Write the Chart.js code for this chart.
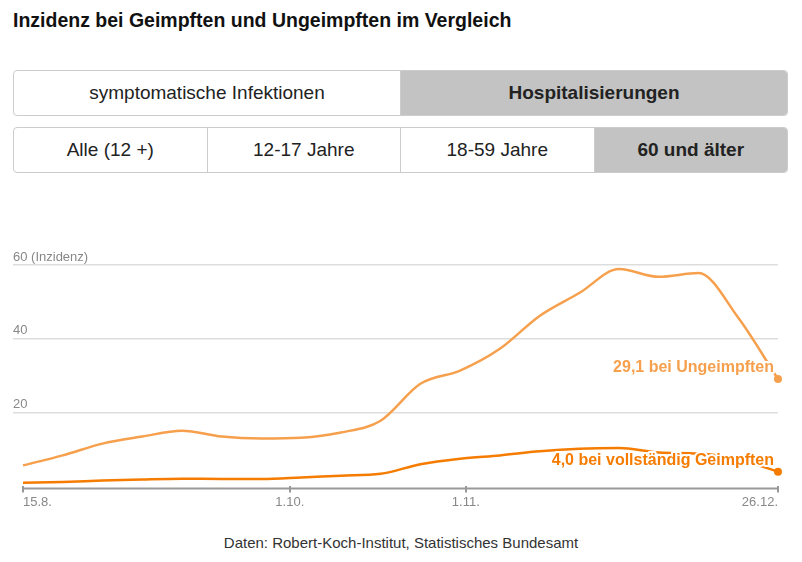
<!DOCTYPE html>
<html>
<head>
<meta charset="utf-8">
<script src="https://cdn.jsdelivr.net/npm/chart.js@4"></script>
<style>
  html,body{margin:0;padding:0;background:#fff;}
  body{width:802px;height:562px;position:relative;overflow:hidden;font-family:"Liberation Sans Narrow","Liberation Sans",Arial,sans-serif;color:#222;}
  h1{position:absolute;left:13px;top:9px;margin:0;font-size:19.5px;font-weight:bold;color:#111;letter-spacing:0px;}
  .row{position:absolute;left:13px;width:775px;height:46px;display:flex;border:1px solid #ccc;border-radius:4px;overflow:hidden;box-sizing:border-box;}
  .row div{flex:1;display:flex;align-items:center;justify-content:center;font-size:19px;color:#222;border-right:1px solid #ccc;}
  .row div:last-child{border-right:none;}
  .row div.sel{background:#c3c3c3;font-weight:bold;}
  #r1{top:70px;}
  #r2{top:127px;}
  #wrap{position:absolute;left:0;top:230px;width:802px;height:290px;}
  #src{position:absolute;left:0;width:802px;top:534px;text-align:center;font-size:15px;color:#333;}
</style>
</head>
<body>
<h1>Inzidenz bei Geimpften und Ungeimpften im Vergleich</h1>
<div class="row" id="r1"><div>symptomatische Infektionen</div><div class="sel">Hospitalisierungen</div></div>
<div class="row" id="r2"><div>Alle (12 +)</div><div>12-17 Jahre</div><div>18-59 Jahre</div><div class="sel">60 und älter</div></div>
<div id="wrap"><canvas id="c"></canvas></div>
<div id="src">Daten: Robert-Koch-Institut, Statistisches Bundesamt</div>
<script>
// day offsets from 15.8. (weekly)
const days = [0,7,14,21,28,35,42,49,56,63,70,77,84,91,98,105,112,119,126,133];
const ungeimpft = [5.7,8.4,11.6,13.5,15.1,13.5,13.0,13.2,14.6,17.8,27.8,31.4,37.3,46.2,52.4,58.9,56.8,57.8,45.7,29.1];
const geimpft = [1.0,1.2,1.6,1.9,2.1,2.0,2.0,2.4,2.9,3.4,6.0,7.5,8.4,9.5,10.2,10.4,9.2,8.9,7.3,4.0];
const xTickValues = [0,47,78,133];
const xTickLabels = ['15.8.','1.10.','1.11.','26.12.'];
const yTicks = [20,40,60];
const colUn = '#f6a04d';
const colGe = '#f57c00';
const labelUn = '29,1 bei Ungeimpften';
const labelGe = '4,0 bei vollständig Geimpften';

const fontFam = '"Liberation Sans Narrow","Liberation Sans",Arial,sans-serif';

const extras = {
  id:'extras',
  beforeDatasetsDraw(chart){
    const {ctx, scales:{x,y}} = chart;
    ctx.save();
    ctx.strokeStyle = '#999';
    ctx.lineWidth = 2;
    const by = y.getPixelForValue(0) + 2;
    ctx.beginPath();
    ctx.moveTo(x.getPixelForValue(0)-1, by);
    ctx.lineTo(x.getPixelForValue(133)+1, by);
    ctx.stroke();
    ctx.restore();
  },
  afterDatasetsDraw(chart){
    const {ctx} = chart;
    ctx.save();
    ctx.font = 'bold 16px ' + fontFam;
    ctx.textAlign = 'right';
    ctx.textBaseline = 'middle';
    ctx.lineJoin = 'round';
    [[0,labelUn,colUn],[1,labelGe,colGe]].forEach(([i,t,c])=>{
      const pts = chart.getDatasetMeta(i).data;
      const p = pts[pts.length-1];
      const tx = p.x - 4, ty = p.y - 11;
      ctx.strokeStyle = '#fff';
      ctx.lineWidth = 4;
      ctx.strokeText(t, tx, ty);
      ctx.fillStyle = c;
      ctx.fillText(t, tx, ty);
    });
    ctx.restore();
  }
};

new Chart(document.getElementById('c'), {
  type:'line',
  data:{
    datasets:[
      {data: days.map((d,i)=>({x:d,y:ungeimpft[i]})), borderColor:colUn, backgroundColor:colUn, borderWidth:2.5, tension:0.4, cubicInterpolationMode:'monotone', clip:false,
       pointRadius: days.map((d,i)=> i===days.length-1?4:0), pointBackgroundColor:colUn, pointBorderWidth:0},
      {data: days.map((d,i)=>({x:d,y:geimpft[i]})), borderColor:colGe, backgroundColor:colGe, borderWidth:2.5, tension:0.4, cubicInterpolationMode:'monotone', clip:false,
       pointRadius: days.map((d,i)=> i===days.length-1?4:0), pointBackgroundColor:colGe, pointBorderWidth:0}
    ]
  },
  options:{
    responsive:true, maintainAspectRatio:false, animation:false,
    layout:{padding:{left:13,right:24,top:35,bottom:8}},
    plugins:{legend:{display:false}, tooltip:{enabled:false}},
    scales:{
      x:{type:'linear', min:-1.76, max:133,
        afterBuildTicks(s){ s.ticks = xTickValues.map(v=>({value:v})); },
        ticks:{callback:(v)=>{const i=xTickValues.indexOf(v);return i>=0?xTickLabels[i]:'';}, color:'#888', font:{family:fontFam,size:13}, maxRotation:0, autoSkip:false, padding:2, align:'inner'},
        grid:{drawOnChartArea:false, drawTicks:true, tickLength:6, color:'#999', lineWidth:2},
        border:{display:false}
      },
      y:{min:0,max:60,
        afterBuildTicks(s){ s.ticks = [0].concat(yTicks).map(v=>({value:v})); },
        ticks:{mirror:true, padding:0, labelOffset:-8, color:'#888', font:{family:fontFam,size:13},
          callback:(v)=> v===0?'':(v===60?'60 (Inzidenz)':String(v))},
        grid:{color:(c)=> c.tick && c.tick.value===0 ? 'rgba(0,0,0,0)' : '#dddddd', lineWidth:1.5, drawTicks:false},
        border:{display:false}
      }
    }
  },
  plugins:[extras]
});
</script>
</body>
</html>
